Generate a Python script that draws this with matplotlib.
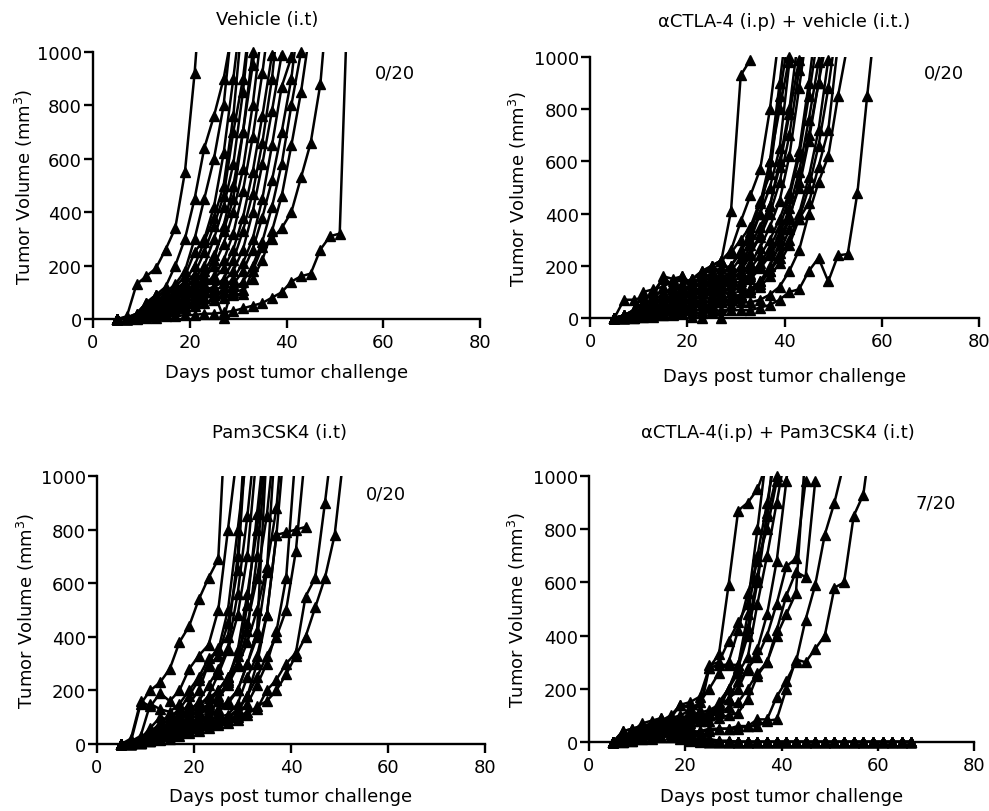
import matplotlib
matplotlib.use("Agg")
import matplotlib.pyplot as plt
import numpy as np

plt.rcParams['font.family'] = ['DejaVu Sans']
plt.rcParams['mathtext.fontset'] = 'dejavusans'

# measurement days (shared schedule)
days = [5, 7, 9, 11, 13, 15, 17, 19, 21, 23, 25, 27, 29, 31, 33, 35,
        37, 39, 41, 43, 45, 47, 49, 51, 53, 55, 57, 59, 61, 63, 65, 67]

titles = ["Vehicle (i.t)", "\u03b1CTLA-4 (i.p) + vehicle (i.t.)",
          "Pam3CSK4 (i.t)", "\u03b1CTLA-4(i.p) + Pam3CSK4 (i.t)"]
counts = ["0/20", "0/20", "0/20", "7/20"]
xticks = [0, 20, 40, 60, 80]
yticks = [0, 200, 400, 600, 800, 1000]

vehicle = [
    [0, 10, 130, 160, 190, 260, 340, 550, 920, 1400],
    [0, 5, 20, 60, 90, 120, 200, 300, 450, 640, 760, 900, 1100],
    [0, 5, 15, 50, 80, 100, 130, 180, 300, 450, 600, 800, 1150],
    [0, 5, 10, 30, 60, 90, 120, 160, 250, 300, 420, 620, 900, 1200],
    [0, 0, 10, 40, 70, 90, 110, 140, 200, 290, 380, 500, 760, 1150],
    [0, 5, 20, 60, 90, 100, 110, 130, 170, 250, 350, 460, 700, 900, 1200],
    [0, 0, 10, 30, 50, 70, 90, 120, 150, 200, 300, 420, 580, 850, 1200],
    [0, 5, 15, 40, 60, 80, 100, 120, 140, 180, 240, 330, 450, 700, 950, 1200],
    [0, 5, 10, 20, 40, 60, 80, 100, 120, 150, 200, 280, 400, 560, 800, 1100],
    [0, 0, 10, 30, 50, 70, 90, 100, 110, 130, 160, 220, 320, 480, 680, 920, 1200],
    [0, 0, 5, 20, 40, 60, 70, 90, 100, 120, 150, 190, 260, 380, 550, 760, 990, 1300],
    [0, 5, 10, 30, 40, 50, 60, 80, 100, 110, 120, 150, 220, 330, 470, 660, 900, 1250],
    [0, 0, 5, 10, 30, 40, 50, 60, 80, 100, 120, 140, 180, 260, 400, 580, 780, 990, 1300],
    [0, 0, 10, 20, 30, 40, 60, 70, 90, 100, 110, 120, 150, 210, 300, 450, 650, 870, 980, 1300],
    [0, 5, 10, 20, 30, 50, 60, 80, 90, 100, 100, 5, 130, 180, 260, 380, 520, 700, 900, 1200],
    [0, 0, 5, 10, 20, 30, 40, 50, 60, 80, 90, 100, 110, 140, 200, 290, 420, 580, 800, 1000, 1300],
    [0, 0, 5, 10, 20, 30, 40, 50, 70, 80, 90, 100, 100, 110, 150, 220, 330, 460, 650, 850, 1100],
    [0, 0, 5, 10, 15, 20, 30, 40, 50, 60, 70, 80, 90, 95, 180, 270, 300, 340, 400, 530, 660, 880, 1300],
    [0, 0, 0, 5, 5, 10, 10, 15, 15, 20, 20, 25, 30, 40, 50, 60, 80, 100, 140, 160, 170, 260, 310, 320, 1400],
    [0, 5, 10, 40, 90, 100, 110, 120, 140, 160, 220, 350, 500, 700, 1000, 1300],
]

ctla4_vehicle = [
    [0, 10, 20, 40, 60, 80, 100, 120, 150, 180, 200, 220, 410, 930, 990, 1200],
    [0, 5, 20, 30, 50, 70, 90, 110, 130, 160, 200, 220, 260, 370, 470, 570, 800, 1100],
    [0, 70, 70, 80, 90, 100, 110, 130, 150, 170, 200, 220, 250, 300, 350, 450, 550, 850, 1100],
    [0, 10, 30, 100, 110, 120, 140, 160, 130, 120, 150, 170, 200, 260, 320, 400, 500, 650, 980, 1300],
    [0, 5, 20, 40, 80, 160, 150, 160, 120, 100, 110, 130, 150, 200, 280, 350, 430, 600, 800, 1100],
    [0, 10, 20, 30, 50, 70, 80, 90, 100, 110, 130, 140, 160, 200, 250, 310, 400, 520, 700, 950, 1200],
    [0, 0, 10, 20, 30, 50, 70, 90, 110, 180, 150, 140, 150, 170, 210, 270, 350, 450, 620, 880, 1150],
    [0, 5, 10, 20, 40, 60, 80, 100, 120, 140, 160, 150, 160, 170, 190, 240, 300, 380, 480, 640, 900, 1200],
    [0, 0, 5, 15, 30, 40, 60, 80, 90, 100, 110, 120, 130, 140, 170, 210, 270, 350, 460, 620, 850, 1100],
    [0, 5, 10, 20, 30, 40, 50, 60, 70, 80, 90, 100, 110, 130, 160, 200, 250, 320, 420, 560, 760, 980, 1300],
    [0, 0, 5, 10, 20, 30, 40, 50, 60, 70, 80, 90, 100, 120, 150, 190, 240, 300, 390, 500, 680, 900, 1200],
    [0, 0, 0, 10, 20, 30, 40, 50, 5, 0, 70, 75, 80, 90, 110, 140, 180, 230, 300, 400, 540, 720, 990, 1300],
    [0, 5, 10, 10, 20, 30, 30, 40, 50, 60, 60, 65, 70, 80, 100, 120, 160, 210, 280, 380, 500, 660, 880, 1150],
    [0, 0, 5, 10, 10, 20, 30, 30, 40, 50, 50, 60, 70, 80, 100, 130, 180, 250, 340, 380, 440, 580, 720, 1050],
    [0, 0, 5, 5, 10, 10, 20, 20, 30, 30, 40, 0, 50, 60, 60, 70, 90, 120, 180, 260, 400, 520, 620, 850, 1050],
    [0, 0, 0, 5, 5, 10, 10, 15, 20, 20, 25, 30, 30, 30, 30, 40, 50, 70, 100, 110, 180, 230, 140, 240, 245, 480, 850, 1200],
    [0, 10, 30, 60, 100, 150, 130, 110, 120, 130, 140, 150, 180, 230, 300, 400, 600, 900, 1200],
    [0, 5, 10, 20, 30, 40, 50, 60, 80, 100, 120, 130, 140, 180, 240, 320, 430, 580, 780, 990, 1300],
    [0, 0, 5, 10, 15, 20, 30, 40, 40, 50, 50, 60, 70, 90, 110, 140, 200, 280, 380, 520, 700, 900, 1100],
    [0, 10, 30, 50, 70, 90, 110, 130, 150, 170, 180, 190, 200, 250, 330, 440, 600, 800, 1000, 1300],
]

pam3csk4 = [
    [0, 10, 150, 200, 230, 280, 380, 440, 540, 620, 690, 1400],
    [0, 20, 160, 140, 190, 160, 200, 280, 330, 370, 500, 800, 1100],
    [0, 10, 30, 150, 130, 120, 150, 200, 250, 320, 350, 500, 800, 1100],
    [0, 5, 20, 60, 100, 90, 110, 150, 200, 300, 360, 400, 700, 1300],
    [0, 10, 20, 40, 80, 100, 130, 180, 240, 290, 330, 450, 650, 1200],
    [0, 5, 10, 30, 60, 80, 100, 120, 160, 220, 280, 360, 560, 850, 1200],
    [0, 0, 10, 20, 50, 70, 90, 110, 140, 180, 260, 350, 480, 700, 1100],
    [0, 5, 10, 30, 40, 60, 80, 100, 120, 150, 200, 250, 300, 520, 860, 1200],
    [0, 5, 15, 40, 60, 70, 80, 90, 110, 130, 180, 230, 300, 420, 700, 1100],
    [0, 0, 5, 20, 40, 50, 60, 70, 80, 100, 130, 160, 200, 300, 420, 1100],
    [0, 0, 10, 20, 40, 50, 60, 70, 90, 110, 160, 240, 350, 560, 800, 1150],
    [0, 5, 10, 30, 50, 60, 70, 80, 90, 100, 120, 150, 200, 300, 400, 640, 1200],
    [0, 5, 10, 20, 30, 50, 60, 70, 80, 90, 100, 110, 150, 250, 330, 480, 780, 1200],
    [0, 0, 10, 20, 30, 40, 50, 60, 70, 80, 90, 100, 120, 180, 300, 480, 780, 790, 800, 810],
    [0, 0, 5, 10, 20, 30, 40, 50, 60, 70, 80, 90, 110, 150, 220, 300, 420, 620, 1100],
    [0, 5, 10, 20, 30, 40, 50, 60, 60, 70, 80, 100, 130, 180, 250, 330, 400, 500, 720, 1100],
    [0, 0, 5, 10, 20, 30, 40, 50, 60, 70, 80, 90, 100, 120, 130, 200, 240, 300, 340, 550, 620, 900, 1200],
    [0, 0, 5, 10, 15, 20, 30, 40, 50, 60, 70, 80, 90, 110, 140, 160, 200, 260, 330, 400, 510, 620, 780, 1100],
    [0, 10, 20, 50, 70, 90, 110, 130, 150, 170, 200, 250, 330, 450, 620, 850, 1200],
    [0, 5, 20, 40, 60, 80, 100, 110, 120, 140, 170, 220, 290, 380, 500, 660, 880, 1300],
]

ctla4_pam3csk4 = [
    [0, 10, 20, 40, 60, 80, 100, 140, 150, 170, 280, 330, 590, 870, 900, 950, 1050],
    [0, 40, 50, 60, 70, 80, 90, 140, 130, 120, 290, 300, 380, 450, 520, 800, 1100],
    [0, 20, 40, 50, 60, 70, 80, 90, 100, 110, 280, 290, 290, 290, 480, 700, 900, 1100],
    [0, 10, 30, 50, 70, 90, 60, 50, 60, 80, 100, 150, 200, 290, 430, 620, 860, 1200],
    [0, 10, 20, 40, 50, 60, 70, 80, 80, 90, 100, 130, 200, 260, 320, 520, 700, 900, 1100],
    [0, 5, 20, 30, 40, 60, 70, 80, 90, 100, 110, 140, 160, 230, 270, 350, 480, 680, 980, 1300],
    [0, 5, 10, 30, 50, 60, 80, 90, 100, 110, 120, 140, 160, 200, 280, 320, 400, 520, 660, 690, 980],
    [0, 10, 20, 30, 40, 50, 60, 70, 80, 90, 100, 110, 130, 150, 200, 260, 300, 420, 550, 640, 620, 980],
    [0, 5, 10, 20, 30, 40, 50, 60, 70, 80, 80, 90, 100, 110, 160, 250, 300, 400, 480, 560, 1100],
    [0, 0, 5, 10, 20, 20, 30, 30, 40, 40, 50, 50, 50, 60, 60, 85, 85, 170, 230, 300, 460, 590, 780, 900, 1050],
    [0, 0, 5, 10, 10, 20, 20, 30, 30, 40, 40, 50, 50, 50, 60, 60, 80, 85, 200, 310, 300, 350, 400, 580, 600, 850, 930, 1200],
    [0, 10, 20, 30, 40, 50, 60, 70, 80, 90, 100, 120, 200, 280, 400, 600, 850, 1000],
    [0, 5, 20, 40, 60, 80, 90, 100, 120, 150, 200, 260, 300, 420, 560, 680, 800, 980],
    [0, 40, 50, 60, 50, 40, 20, 10, 5, 0, 0, 0, 0, 0, 0, 0, 0, 0, 0, 0, 0, 0, 0, 0, 0, 0, 0, 0, 0, 0, 0, 0],
    [0, 20, 40, 70, 80, 90, 60, 30, 10, 5, 0, 0, 0, 0, 0, 0, 0, 0, 0, 0, 0, 0, 0, 0, 0, 0, 0, 0, 0, 0, 0, 0],
    [0, 10, 30, 50, 60, 70, 80, 60, 40, 20, 5, 0, 0, 0, 0, 0, 0, 0, 0, 0, 0, 0, 0, 0, 0, 0, 0, 0, 0, 0, 0, 0],
    [0, 10, 20, 40, 50, 60, 50, 40, 30, 20, 10, 5, 0, 0, 0, 0, 0, 0, 0, 0, 0, 0, 0, 0, 0, 0, 0, 0, 0, 0, 0, 0],
    [0, 5, 20, 30, 40, 50, 40, 30, 20, 10, 0, 0, 0, 0, 0, 0, 0, 0, 0, 0, 0, 0, 0, 0, 0, 0, 0, 0, 0, 0, 0, 0],
    [0, 10, 30, 40, 60, 70, 60, 50, 30, 20, 10, 5, 5, 0, 0, 0, 0, 0, 0, 0, 0, 0, 0, 0, 0, 0, 0, 0, 0, 0, 0, 0],
    [0, 5, 10, 20, 30, 40, 30, 20, 10, 5, 0, 0, 0, 0, 0, 0, 0, 0, 0, 0, 0, 0, 0, 0, 0, 0, 0, 0, 0, 0, 0, 0],
]

groups = [vehicle, ctla4_vehicle, pam3csk4, ctla4_pam3csk4]

W, H = 989, 812
fig = plt.figure(figsize=(W / 100, H / 100), dpi=100)

# layout in pixels: (left, right, bottom, top)
boxes = [(93, 480, 320, 53), (590, 979, 319, 58), (97, 485, 745, 477), (589, 974, 743, 477)]
title_pos = [(267, 20), (784, 22), (279, 433), (778, 433)]
count_pos = [(62.4, 925), (72.8, 942), (59.6, 933), (72.1, 902)]
ylab_x = [-0.178, -0.186, -0.184, -0.188]
xlab_y = [-0.1985, -0.222, -0.194, -0.203]

FS = 13
for k in range(4):
    l, r, b, t = boxes[k]
    ax = fig.add_axes([l / W, 1 - b / H, (r - l) / W, (b - t) / H])
    for vols in groups[k]:
        v = np.array(vols, dtype=float)
        d = np.array(days[:len(v)], dtype=float)
        ax.plot(d, v, color='black', lw=1.8, clip_on=True, zorder=2)
        m = v <= 1000
        ax.plot(d[m], v[m], linestyle='none', marker='^', ms=7.3, color='black',
                clip_on=False, zorder=3)
    ax.set_xlim(0, 80)
    ax.set_ylim(0, 1000)
    ax.set_xticks(xticks)
    ax.set_yticks(yticks)
    ax.spines['top'].set_visible(False)
    ax.spines['right'].set_visible(False)
    for s in ('left', 'bottom'):
        ax.spines[s].set_linewidth(1.7)
    ax.tick_params(axis='both', direction='out', length=6.5, width=1.7,
                   labelsize=FS, color='black')
    ax.tick_params(axis='x', pad=3.5)
    ax.tick_params(axis='y', pad=1.5)
    ax.set_ylabel('Tumor Volume (mm$^3$)', fontsize=FS)
    ax.yaxis.set_label_coords(ylab_x[k], 0.5)
    ax.yaxis.label.set_va('center')
    ax.set_xlabel('Days post tumor challenge', fontsize=FS)
    ax.xaxis.set_label_coords(0.5, xlab_y[k])
    ax.xaxis.label.set_va('center')
    ax.text(count_pos[k][0], count_pos[k][1], counts[k], fontsize=FS,
            ha='center', va='center')
    fig.text(title_pos[k][0] / W, 1 - title_pos[k][1] / H, titles[k],
             fontsize=FS, ha='center', va='center')

fig.savefig('out.png', dpi=100)
